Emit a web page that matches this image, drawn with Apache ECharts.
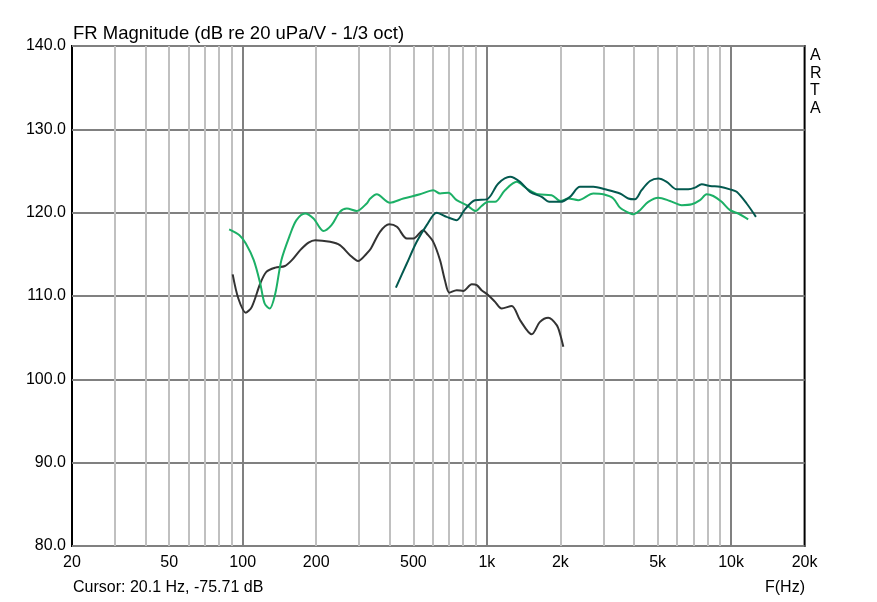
<!DOCTYPE html>
<html><head><meta charset="utf-8">
<script src="https://cdn.jsdelivr.net/npm/echarts@6/dist/echarts.min.js"></script>
<style>html,body{margin:0;padding:0;background:#fff}#c{width:877px;height:602px}</style>
</head><body><div id="c"></div>
<script>
// Tick labels
const xTickValues = [20, 50, 100, 200, 500, 1000, 2000, 5000, 10000, 20000];
const xTickLabels = ['20', '50', '100', '200', '500', '1k', '2k', '5k', '10k', '20k'];
const minorGridFreqs = [30,40,50,60,70,80,90,200,300,400,500,600,700,800,900,2000,3000,4000,5000,6000,7000,8000,9000];
const majorGridFreqs = [100, 1000, 10000];

// Black (dark gray) curve
const blackFreq = [91,96,103,109,118,125,136,149,159,172,186,198,228,250,275,297,322,335,365,398,428,470,500,549,567,603,643,673,702,752,800,867,909,951,1014,1080,1150,1264,1367,1526,1650,1784,1932,2000,2056];
const blackDb   = [112.6,109.7,108.0,108.7,111.5,112.9,113.4,113.6,114.3,115.5,116.4,116.7,116.5,116.1,114.9,114.2,115.1,115.7,117.7,118.6,118.3,116.9,116.9,117.9,117.5,116.5,114.3,111.9,110.4,110.7,110.6,111.4,111.3,110.7,110.1,109.3,108.5,108.8,107.1,105.4,106.9,107.4,106.5,105.3,103.9];

// Bright green curve
const greenFreq = [88,97,103,111,118,123,129,136,144,156,166,180,195,214,231,250,267,293,322,333,354,401,455,532,603,643,695,752,826,902,951,1014,1080,1186,1324,1456,1624,1841,2000,2155,2367,2730,3000,3294,3508,3736,3978,4236,4580,5036,5620,6278,6900,7460,7940,8454,9150,9900,10700,11750];
const greenDb   = [118.0,117.3,116.3,114.3,111.5,109.1,108.5,110.3,114.3,117.3,119.1,119.9,119.3,117.8,118.5,120.1,120.5,120.2,121.1,121.7,122.2,121.2,121.7,122.2,122.7,122.3,122.4,121.5,120.9,120.2,120.8,121.3,121.3,122.7,123.7,122.9,122.2,122.1,121.4,121.7,121.5,122.3,122.2,121.7,120.6,120.1,119.8,120.3,121.3,121.8,121.4,120.9,121.0,121.5,122.2,122.0,121.3,120.3,119.9,119.2];

// Dark teal curve
const tealFreq = [424,470,516,567,623,684,752,813,893,1000,1114,1244,1367,1502,1676,1800,2000,2190,2406,2730,3046,3508,3794,4040,4300,4656,5036,5448,5990,6680,7120,7580,8200,9008,9900,10540,11580,12640];
const tealDb   = [111.0,113.9,116.5,118.5,120.0,119.5,119.1,120.4,121.5,121.6,123.5,124.3,123.7,122.5,121.9,121.3,121.3,121.9,123.1,123.1,122.8,122.3,121.7,121.6,122.7,123.8,124.1,123.7,122.8,122.8,123.0,123.4,123.2,123.1,122.8,122.5,121.1,119.5];

const zip = (a, b) => a.map((v, i) => [v, b[i]]);
const FONT = 'Liberation Sans, Arial, sans-serif';

const chart = echarts.init(document.getElementById('c'), null, {renderer: 'canvas'});
const gridLine = (f, color) => ({xAxis: f, lineStyle: {color: color, width: 2, type: 'solid'}});

chart.setOption({
  animation: false,
  backgroundColor: '#ffffff',
  title: {
    text: 'FR Magnitude (dB re 20 uPa/V - 1/3 oct)',
    left: 68, top: 19,
    textStyle: {fontFamily: FONT, fontSize: 18.5, fontWeight: 'normal', color: '#000'}
  },
  graphic: [
    {type: 'text', left: 73, top: 580, style: {text: 'Cursor: 20.1 Hz, -75.71 dB', font: '16px ' + FONT, fill: '#000'}},
    {type: 'text', left: 765, top: 580, style: {text: 'F(Hz)', font: '16px ' + FONT, fill: '#000'}},
    {type: 'text', left: 810, top: 47, style: {text: 'A\nR\nT\nA', font: '16px ' + FONT, fill: '#000', lineHeight: 17.5}}
  ],
  grid: {left: 72, top: 46, right: 72.4, bottom: 56, show: true, borderColor: '#000', borderWidth: 2, backgroundColor: 'transparent'},
  xAxis: {
    type: 'log', logBase: 10, min: 20, max: 20000,
    axisLine: {show: false},
    axisTick: {show: false},
    splitLine: {show: false},
    axisLabel: {
      customValues: xTickValues,
      formatter: v => { const i = xTickValues.findIndex(t => Math.abs(t - v) / t < 1e-6); return i >= 0 ? xTickLabels[i] : ''; },
      fontFamily: FONT, fontSize: 16, color: '#000', margin: 9, showMinLabel: true, showMaxLabel: true
    }
  },
  yAxis: {
    type: 'value', min: 80, max: 140, interval: 10,
    axisLine: {show: false}, axisTick: {show: false},
    axisLabel: {formatter: v => v.toFixed(1), fontFamily: FONT, fontSize: 16, color: '#000', margin: 6},
    splitLine: {show: true, lineStyle: {color: '#808080', width: 2}}
  },
  series: [
    {
      type: 'line', data: [], z: 1, silent: true,
      markLine: {
        silent: true, symbol: 'none', animation: false,
        label: {show: false},
        data: minorGridFreqs.map(f => gridLine(f, '#c0c0c0')).concat(majorGridFreqs.map(f => gridLine(f, '#808080')))
      }
    },
    {type: 'line', data: zip(blackFreq, blackDb), showSymbol: false, smooth: 0.3, z: 5,
     lineStyle: {color: '#333333', width: 2}},
    {type: 'line', data: zip(greenFreq, greenDb), showSymbol: false, smooth: 0.3, z: 5,
     lineStyle: {color: '#1cb066', width: 2}},
    {type: 'line', data: zip(tealFreq, tealDb), showSymbol: false, smooth: 0.3, z: 6,
     lineStyle: {color: '#03594f', width: 2}}
  ]
});
</script></body></html>
